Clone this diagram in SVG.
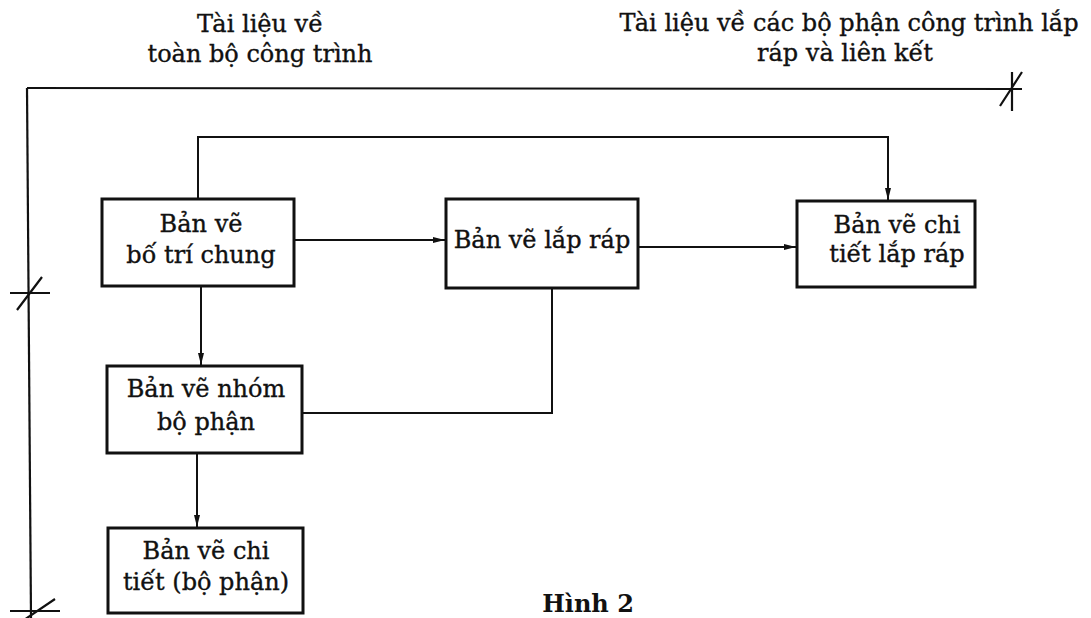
<svg xmlns="http://www.w3.org/2000/svg" width="1091" height="618" viewBox="0 0 1091 618">
  <style>
    .box { fill: #ffffff; stroke: #111111; stroke-width: 3; }
    .lbl { font-family: "DejaVu Serif", "Liberation Serif", serif; font-size: 24px; fill: #111111; stroke: #111111; stroke-width: 0.35; text-anchor: middle; }
    .cap { font-family: "DejaVu Serif", "Liberation Serif", serif; font-size: 24px; font-weight: bold; fill: #111111; text-anchor: middle; }
    .wire { fill: none; stroke: #111111; stroke-width: 2; }
    .frame { fill: none; stroke: #111111; stroke-width: 2.2; }
  </style>
  <defs>
    <marker id="arrow" viewBox="0 0 12 8" refX="12" refY="4" markerWidth="12" markerHeight="8" markerUnits="userSpaceOnUse" orient="auto">
      <path d="M0,1 L12,4 L0,7 Z" fill="#111111"/>
    </marker>
  </defs>
  <rect width="1091" height="618" fill="#ffffff"/>

  <!-- scope frame with dimension ticks -->
  <g id="frame">
    <path class="frame" d="M27,88 L1022,89"/>
    <path class="frame" d="M27,88 L31,618"/>
    <path class="frame" d="M10,293 L50,293 M17,310 L42,277"/>
    <path class="frame" d="M10,611 L60,611 M24,620 L55,599"/>
    <path class="frame" d="M1012,72 L1012,111 M1000,106 L1022,72"/>
  </g>

  <!-- headings -->
  <g id="heading-whole">
    <text class="lbl" x="260" y="32">Tài liệu về</text>
    <text class="lbl" x="260" y="62">toàn bộ công trình</text>
  </g>
  <g id="heading-parts">
    <text class="lbl" x="849" y="31">Tài liệu về các bộ phận công trình lắp</text>
    <text class="lbl" x="845" y="61">ráp và liên kết</text>
  </g>

  <!-- connectors -->
  <g id="connectors">
    <path class="wire" d="M198,199 L198,137 L888,137 L888,200" marker-end="url(#arrow)"/>
    <path class="wire" d="M294,240 L445,240" marker-end="url(#arrow)"/>
    <path class="wire" d="M638,247 L796,247" marker-end="url(#arrow)"/>
    <path class="wire" d="M201,286 L201,365" marker-end="url(#arrow)"/>
    <path class="wire" d="M197,453 L197,527" marker-end="url(#arrow)"/>
    <path class="wire" d="M552,288 L552,413 L302,413"/>
  </g>

  <!-- nodes -->
  <g id="general-layout">
    <rect class="box" x="102" y="199" width="192" height="87"/>
    <text class="lbl" x="201" y="232">Bản vẽ</text>
    <text class="lbl" x="201" y="263">bố trí chung</text>
  </g>
  <g id="assembly">
    <rect class="box" x="446" y="199" width="192" height="89"/>
    <text class="lbl" x="542" y="248">Bản vẽ lắp ráp</text>
  </g>
  <g id="assembly-detail">
    <rect class="box" x="797" y="201" width="178" height="86"/>
    <text class="lbl" x="897" y="233">Bản vẽ chi</text>
    <text class="lbl" x="897" y="262">tiết lắp ráp</text>
  </g>
  <g id="part-group">
    <rect class="box" x="107" y="366" width="195" height="87"/>
    <text class="lbl" x="206" y="397">Bản vẽ nhóm</text>
    <text class="lbl" x="206" y="430">bộ phận</text>
  </g>
  <g id="part-detail">
    <rect class="box" x="108" y="528" width="195" height="85"/>
    <text class="lbl" x="206" y="559">Bản vẽ chi</text>
    <text class="lbl" x="206" y="590">tiết (bộ phận)</text>
  </g>

  <!-- figure caption -->
  <g id="caption">
    <text class="cap" x="588" y="612">Hình 2</text>
  </g>
</svg>
